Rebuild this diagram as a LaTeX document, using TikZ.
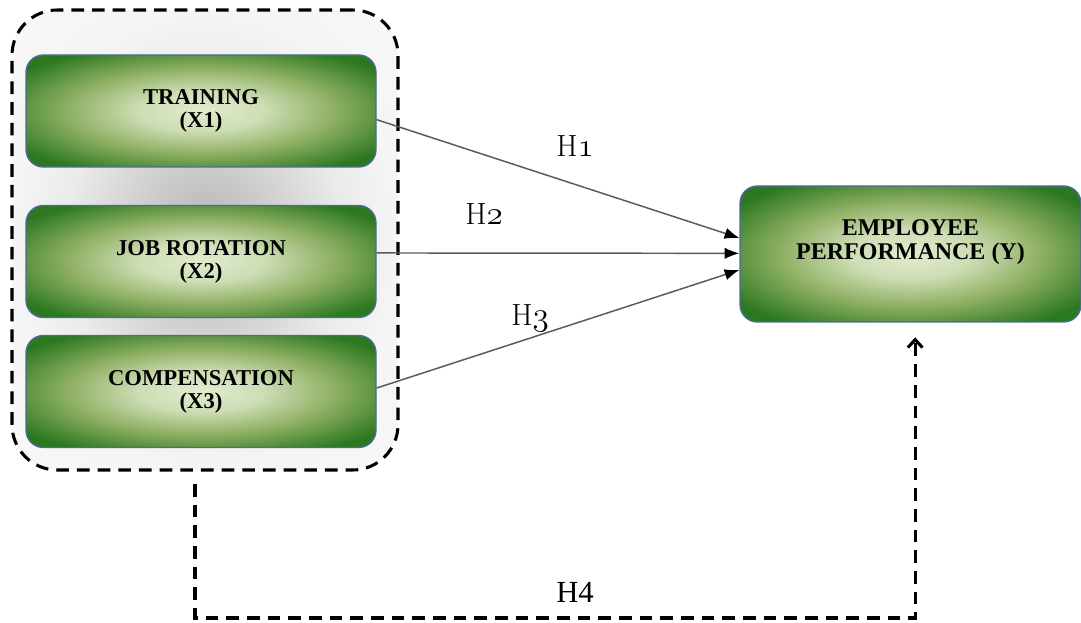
\documentclass[tikz,border=0pt]{standalone}
\usepackage{fontspec}
\newfontfamily\boxfont{Liberation Serif}
\usepackage{tikz}
\usetikzlibrary{arrows.meta,positioning}
\definecolor{boxgreen}{HTML}{2C7820}
\definecolor{boxmid}{HTML}{8FB064}
\definecolor{boxlight}{HTML}{E2ECCF}
\definecolor{boxedge}{HTML}{4C6B98}
\definecolor{linegray}{HTML}{5A5A5A}

\pgfdeclareradialshading{boxglow}{\pgfpoint{0bp}{0bp}}{%
  color(0bp)=(boxlight); color(9bp)=(boxlight!75!boxmid);
  color(19bp)=(boxmid); color(31bp)=(boxgreen); color(50bp)=(boxgreen)}
\pgfdeclareradialshading{groupglow}{\pgfpoint{0bp}{0bp}}{%
  color(0bp)=(gray!60); color(9bp)=(gray!38); color(18bp)=(gray!16);
  color(25bp)=(gray!8); color(50bp)=(gray!3)}

\begin{document}
\begin{tikzpicture}[
    x=0.75pt, y=-0.75pt,
    varbox/.style={rectangle, rounded corners=13pt, shading=boxglow,
        draw=boxedge, line width=1pt, inner sep=0pt, align=center,
        minimum width=262.5pt, minimum height=84pt,
        font=\boxfont\bfseries\fontsize{17}{17.2}\selectfont},
    hline/.style={-{Latex[length=11pt,width=8.5pt,color=black]}, linegray, line width=1.1pt},
    hlabel/.style={font=\fontsize{23}{23}\selectfont},
    dashline/.style={dash pattern=on 9.5pt off 6pt, line width=2.3pt}
]
    \useasboundingbox (0,0) rectangle (1081,623);

    % === INDEPENDENT VARIABLES (group) ===
    \node[rectangle, rounded corners=34pt, shading=groupglow, draw=black, dashline,
          minimum width=289.5pt, minimum height=345pt] (group) at (205,240) {};

    \node[varbox] (train) at (201,111) {TRAINING\\(X1)};
    \node[varbox] (jobrot) at (201,261.5) {JOB ROTATION\\(X2)};
    \node[varbox] (comp) at (201,391.5) {COMPENSATION\\(X3)};

    % === DEPENDENT VARIABLE ===
    \node[varbox, minimum width=255.75pt, minimum height=102pt] (perf) at (910.5,254) {};
    \node[font=\boxfont\bfseries\fontsize{18}{18.5}\selectfont, align=center]
        (perftxt) at ([yshift=9pt]perf.center) {EMPLOYEE\\PERFORMANCE (Y)};

    % === HYPOTHESES ===
    \draw[hline] ([yshift=-6.5pt]train.east) -- ([yshift=12pt]perf.west);
    \draw[hline] ([yshift=6.4pt]jobrot.east) -- ([yshift=0.5pt]perf.west);
    \draw[hline] ([yshift=2.6pt]comp.east) -- ([yshift=-12pt]perf.west);

    \node[hlabel] (h1) at (575,146) {H{\usefont{OML}{cmm}{m}{it}1}};
    \node[hlabel] (h2) at (484,214) {H{\usefont{OML}{cmm}{m}{it}2}};
    \node[hlabel] (h3) at (530,318) {H{\usefont{OML}{cmm}{m}{it}3}};

    % simultaneous effect
    \coordinate (h4start) at (195,484);
    \coordinate (h4corner) at (195,618);
    \draw[dashline, -{Straight Barb[length=6pt,width=11pt]}]
        (h4start) -- (h4corner) -| ([xshift=3.5pt,yshift=-11pt]perf.south);
    \node[font=\boxfont\fontsize{23}{23}\selectfont] (h4) at (575,592) {H4};
\end{tikzpicture}
\end{document}
